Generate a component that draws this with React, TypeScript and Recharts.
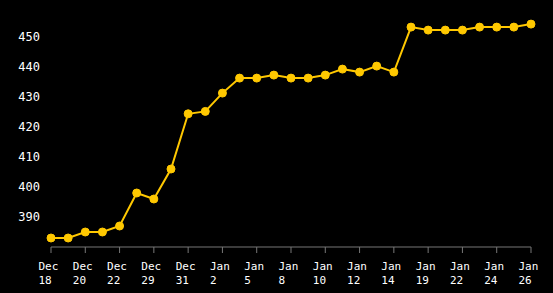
import React from "react";
import { LineChart, Line, XAxis, YAxis } from "recharts";

const dates = [
  "Dec 18", "Dec 19", "Dec 20", "Dec 21", "Dec 22", "Dec 27", "Dec 29", "Dec 30",
  "Dec 31", "Jan 1", "Jan 2", "Jan 4", "Jan 5", "Jan 7", "Jan 8", "Jan 9",
  "Jan 10", "Jan 11", "Jan 12", "Jan 13", "Jan 14", "Jan 18", "Jan 19", "Jan 21",
  "Jan 22", "Jan 23", "Jan 24", "Jan 25", "Jan 26",
];

const values = [
  383, 383, 385, 385, 387, 398, 396, 406,
  424.4, 425.2, 431.3, 436.3, 436.3, 437.3, 436.3, 436.3,
  437.3, 439.3, 438.3, 440.3, 438.3, 453.3, 452.3, 452.3,
  452.3, 453.3, 453.3, 453.3, 454.3,
];

const yTicks = [390, 400, 410, 420, 430, 440, 450];

const data = dates.map((d, i) => ({ date: d, value: values[i] }));

const YELLOW = "#FFC800";

function DateTick(props: any) {
  const { x, y, payload } = props;
  const [mon, day] = String(payload.value).split(" ");
  return (
    <text
      x={x - 12.5}
      y={y}
      fill="#ffffff"
      fontSize={11}
      fontFamily="'DejaVu Sans Mono', monospace"
      textAnchor="start"
    >
      <tspan x={x - 12.5} dy={15}>{mon}</tspan>
      <tspan x={x - 12.5} dy={14}>{day}</tspan>
    </text>
  );
}

export default function App() {
  return (
    <div style={{ position: "absolute", left: 0, top: 0, width: 553, height: 293, background: "#000" }}>
      <LineChart
        width={553}
        height={293}
        data={data}
        margin={{ top: 7, right: 22, bottom: 0, left: 0 }}
      >
        <XAxis
          dataKey="date"
          interval={1}
          height={46}
          axisLine={{ stroke: "#777" }}
          tickLine={{ stroke: "#777" }}
          tickSize={6}
          tickMargin={2}
          tick={<DateTick />}
        />
        <YAxis
          domain={[380, 460]}
          ticks={yTicks}
          width={51}
          axisLine={false}
          tickLine={false}
          tickMargin={5}
          tick={{ fill: "#ffffff", fontSize: 12, fontFamily: "'DejaVu Sans Mono', monospace" }}
        />
        <Line
          type="linear"
          dataKey="value"
          stroke={YELLOW}
          strokeWidth={2}
          dot={{ r: 4, fill: YELLOW, stroke: YELLOW, strokeWidth: 1 }}
          isAnimationActive={false}
        />
      </LineChart>
    </div>
  );
}
